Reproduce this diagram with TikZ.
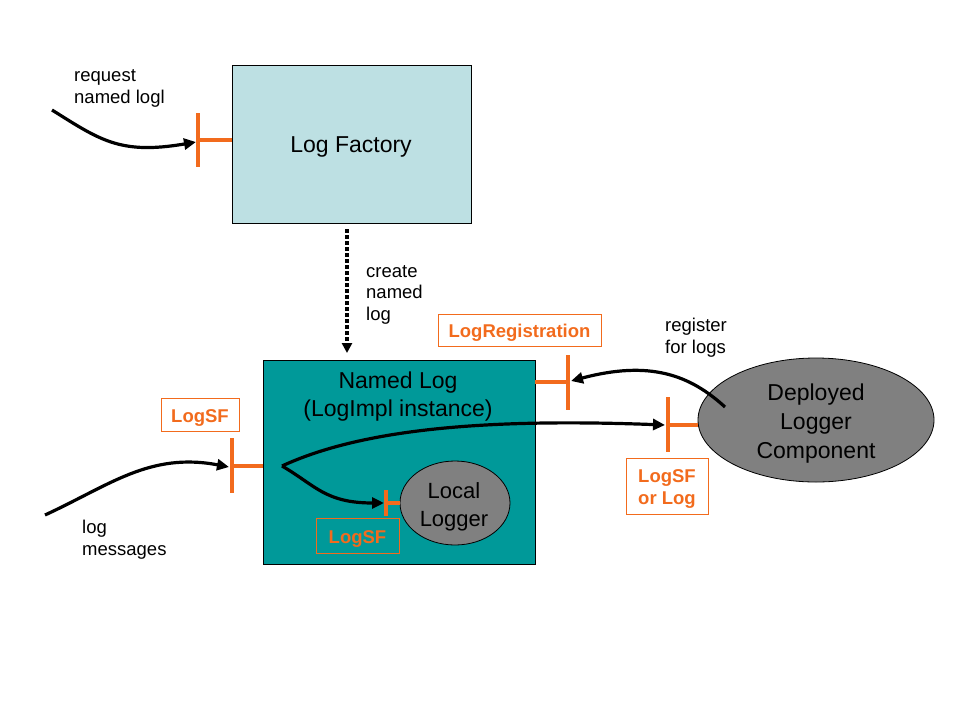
\documentclass[tikz,border=0pt]{standalone}
\usepackage{fontspec}
\setmainfont{Liberation Sans}
\usetikzlibrary{arrows.meta,shapes.geometric}
\definecolor{boxblue}{HTML}{BDE0E3}
\definecolor{teal2}{HTML}{009999}
\definecolor{graybody}{HTML}{808080}
\definecolor{portorange}{HTML}{F26B1D}
\begin{document}
\begin{tikzpicture}[x=1pt,y=-1pt,
  bigtext/.style={font=\fontsize{23}{28}\selectfont, align=center},
  smalltext/.style={font=\fontsize{18.5}{21.5}\selectfont, align=left, anchor=north west, inner sep=0pt},
  tag/.style={draw=portorange, text=portorange, font=\bfseries\fontsize{18.5}{21.5}\selectfont, align=center, line width=0.8pt, inner sep=0pt},
  portline/.style={draw=portorange, line width=3.5pt},
  flow/.style={draw=black, line width=3.2pt, -{Triangle[length=12pt,width=11pt]}},
]
\useasboundingbox (0,0) rectangle (960,720);

% Log Factory
\node[draw, fill=boxblue, line width=0.8pt, minimum width=239pt, minimum height=158pt] (factory) at (351.5,144) {};
\node[bigtext] (factorytxt) at (351,147) {Log Factory};

% Named Log
\node[draw, fill=teal2, line width=0.8pt, minimum width=272pt, minimum height=204pt] (namedlog) at (399,462) {};
\node[bigtext] (namedlogtxt) at (398,397) {Named Log\\(LogImpl instance)};

% Local Logger
\node[draw, ellipse, fill=graybody, line width=0.8pt, minimum width=110pt, minimum height=84pt, inner sep=0pt] (local) at (455,503) {};
\node[bigtext, font=\fontsize{22}{28}\selectfont] (localtxt) at (454,507) {Local\\Logger};

% Deployed Logger Component
\node[draw, ellipse, fill=graybody, line width=0.8pt, minimum width=236pt, minimum height=124pt, inner sep=0pt] (deployed) at (816,420) {};
\node[bigtext, font=\fontsize{23}{29}\selectfont] (deployedtxt) at (816,424) {Deployed\\Logger\\Component};

% Ports
\coordinate (pfA) at (198,140);
\draw[portline] (198,113) -- (198,167);
\draw[portline] (pfA) -- (factory.west |- pfA);

\coordinate (pnA) at (232,466);
\draw[portline] (232,438) -- (232,493);
\draw[portline] (pnA) -- (namedlog.west |- pnA);

\coordinate (plA) at (386,503);
\draw[portline] (386,490) -- (386,516);
\draw[portline] (plA) -- (local.west);

\coordinate (prA) at (568,382);
\draw[portline] (568,355) -- (568,410);
\draw[portline] (prA) -- (namedlog.east |- prA);

\coordinate (pdA) at (668,425);
\draw[portline] (668,397) -- (668,452);
\draw[portline] (pdA) -- (deployed.west |- pdA);

% Tags
\node[tag, minimum width=78pt, minimum height=33pt] (tagA) at (200,414.5) {};
\node[text=portorange, font=\bfseries\fontsize{18.5}{21.5}\selectfont] (tagAt) at (200,417.5) {LogSF};
\node[tag, minimum width=83pt, minimum height=35pt] (tagB) at (357.5,535.5) {};
\node[text=portorange, font=\bfseries\fontsize{18.5}{21.5}\selectfont] (tagBt) at (357.5,538.5) {LogSF};
\node[tag, minimum width=163pt, minimum height=32pt] (tagC) at (519.5,330) {};
\node[text=portorange, font=\bfseries\fontsize{18.5}{21.5}\selectfont] (tagCt) at (519.5,332.5) {LogRegistration};
\node[tag, minimum width=82pt, minimum height=56pt] (tagD) at (667,486) {};
\node[text=portorange, font=\bfseries\fontsize{18.5}{22}\selectfont, align=center] (tagDt) at (667,489) {LogSF\\or Log};

% Texts
\node[smalltext] (t1) at (74,69.5) {request\\named logl};
\node[smalltext] (t2) at (366,265) {create\\named\\log};
\node[smalltext] (t3) at (665,318) {register\\for logs};
\node[smalltext] (t4) at (82,520) {log\\messages};

% Connectors
\coordinate (s1) at (52,110);
\coordinate (e1) at (196,142);
\draw[flow] (s1) .. controls (100,140) and (120,155) .. (e1);

\coordinate (s2) at (45,515);
\coordinate (e2) at (229,467);
\draw[flow] (s2) .. controls (110,485) and (150,452) .. (e2);

\coordinate (split) at (282,466);
\coordinate (e3) at (384,503);
\draw[flow] (split) .. controls (315,485) and (325,503) .. (e3);

\coordinate (e4) at (665,425);
\draw[flow] (split) .. controls (360,430) and (480,418) .. (e4);

\coordinate (s5) at (725,407);
\coordinate (e5) at (571,381);
\draw[flow] (s5) .. controls (690,375) and (650,360) .. (e5);

\draw[line width=4pt, dotted, -{Triangle[length=10pt,width=10pt]}] (factory.south -| 347,0) ++(0,6) -- (347,353);
\end{tikzpicture}
\end{document}
